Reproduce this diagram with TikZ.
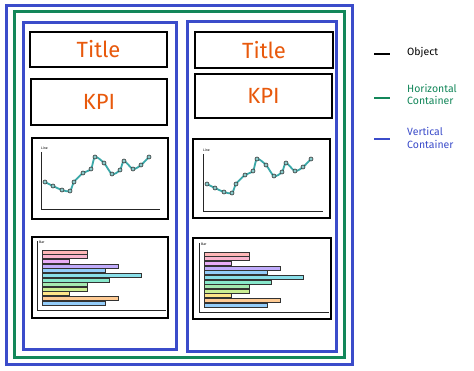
\documentclass[tikz,border=0pt]{standalone}
\usepackage{fontspec}
\setmainfont{Fira Sans}
\definecolor{ttlorange}{HTML}{E8590C}
\definecolor{hgreen}{HTML}{13875A}
\definecolor{vblue}{HTML}{3B4CCA}
\definecolor{linetea}{HTML}{3AA8A8}
\definecolor{c1}{HTML}{FF8787}
\definecolor{c2}{HTML}{F783AC}
\definecolor{c3}{HTML}{DA77F2}
\definecolor{c4}{HTML}{9775FA}
\definecolor{c5}{HTML}{4DABF7}
\definecolor{c6}{HTML}{3BC9DB}
\definecolor{c7}{HTML}{38D9A9}
\definecolor{c8}{HTML}{69DB7C}
\definecolor{c9}{HTML}{A9E34B}
\definecolor{c10}{HTML}{FFD43B}
\definecolor{c11}{HTML}{FFA94D}
\definecolor{c12}{HTML}{4DABF7}
\tikzset{
  objbox/.style={draw=black,line width=2pt,rectangle,inner sep=0pt,outer sep=0pt},
  hcont/.style={draw=hgreen,line width=3pt},
  vcont/.style={draw=vblue,line width=3pt},
  ttl/.style={text=ttlorange,font=\fontsize{22}{24}\selectfont},
  legtext/.style={font=\fontsize{10.5}{12.5}\selectfont,align=left,anchor=west,inner sep=0pt},
  axisline/.style={draw=black!85,line width=1pt},
  chartline/.style={draw=linetea,line width=1.8pt},
  pt/.style={circle,draw=black!80,fill=linetea!60,line width=0.6pt,inner sep=0pt,minimum size=4pt},
  barbox/.style={draw=black!80,line width=0.6pt},
  tiny/.style={font=\fontsize{3.5}{4}\selectfont,inner sep=0pt,anchor=west}
}
\begin{document}
\begin{tikzpicture}[x=1pt,y=-1pt]
\useasboundingbox[fill=white] (0,0) rectangle (474,371);
% containers
\draw[vcont] (6,6) rectangle (352,364);
\draw[hcont] (14,12) rectangle (344,358);
\draw[vcont] (23,23) rectangle (176,350);
\draw[vcont] (187,22) rectangle (336,352);
% objects left
\node[objbox,minimum width=137pt,minimum height=35pt,ttl] (titleL) at (98.5,49.5) {Title};
\node[objbox,minimum width=136pt,minimum height=46pt,ttl] (kpiL) at (99,102) {KPI};
\node[objbox,minimum width=136pt,minimum height=81pt] (lineL) at (100,178.5) {};
\node[objbox,minimum width=136pt,minimum height=81pt] (barL) at (100,277.5) {};
% objects right
\node[objbox,minimum width=138pt,minimum height=36pt,ttl] (titleR) at (264,50) {Title};
\node[objbox,minimum width=137pt,minimum height=44pt,ttl] (kpiR) at (263.5,96) {KPI};
\node[objbox,minimum width=137pt,minimum height=79pt] (lineR) at (261.5,178.5) {};
\node[objbox,minimum width=138pt,minimum height=81pt] (barR) at (262,278.5) {};
% line charts
\foreach \dx/\dy/\xe in {0/0/160, 162/2/323}{
  \begin{scope}[shift={(\dx,\dy)}]
    \node[tiny] at (41,148) {Line};
    \draw[axisline] (41,152) -- (41,210) -- (\xe-\dx,210);
    \draw[chartline] plot[smooth,tension=0.5] coordinates {(45,182) (53,186) (62,190) (70,191) (74,182) (83,173) (91,169) (95,157) (104,163) (112,174) (120,170) (124,161) (133,169) (141,165) (149,157)};
    \foreach \p in {(45,182),(53,186),(62,190),(70,191),(74,182),(83,173),(91,169),(95,157),(104,163),(112,174),(120,170),(124,161),(133,169),(141,165),(149,157)}
      \node[pt] at \p {};
  \end{scope}
}
% bar charts
\foreach \dx/\dy/\xe in {0/0/166, 162/2/329}{
  \begin{scope}[shift={(\dx,\dy)}]
    \node[tiny] at (39,242) {Bar};
    \draw[axisline] (37,241) -- (37,311) -- (\xe-\dx,311);
    \foreach \yc/\xr/\cc in {252/87/c1,256.5/87/c2,261/69/c3,266/118/c4,270.5/105/c5,275/141/c6,280/109/c7,284.5/87/c8,289/87/c9,293.5/69/c10,298/118/c11,303/105/c12}
      \draw[barbox,fill=\cc!60] (42,\yc-1.9) rectangle (\xr,\yc+1.9);
  \end{scope}
}
% legend
\coordinate (lo1) at (374,54); \coordinate (lo2) at (390,54);
\draw[black,line width=1.3pt] (lo1) -- (lo2);
\node[legtext] (lobj) at (407,53) {Object};
\coordinate (lh1) at (374,98); \coordinate (lh2) at (390,98);
\draw[hgreen,line width=1.3pt] (lh1) -- (lh2);
\node[legtext,text=hgreen] (lhor) at (407,94.5) {Horizontal\\Container};
\coordinate (lv1) at (374,139); \coordinate (lv2) at (390,139);
\draw[vblue,line width=1.3pt] (lv1) -- (lv2);
\node[legtext,text=vblue] (lver) at (407,138) {Vertical\\Container};
\end{tikzpicture}
\end{document}
